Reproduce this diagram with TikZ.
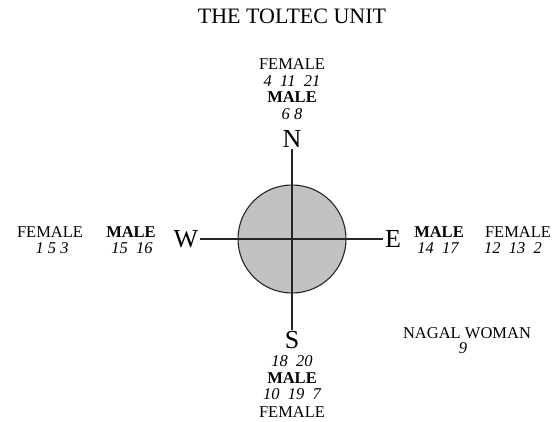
\documentclass[tikz,border=0pt]{standalone}
\usepackage{fontspec}
\setmainfont{Liberation Serif}
\begin{document}
\begin{tikzpicture}[x=1pt,y=-1pt,
  lbl/.style={font=\fontsize{16.5}{18}\selectfont, inner sep=0pt, align=center},
  bl/.style={font=\fontsize{16.5}{18}\selectfont\bfseries, inner sep=0pt},
  num/.style={font=\fontsize{16.5}{18}\selectfont\itshape, inner sep=0pt},
  dirl/.style={font=\fontsize{26}{28}\selectfont, inner sep=1.5pt},
  ln/.style={line width=1.1pt, draw=black!85}]
\useasboundingbox (0,0) rectangle (553,422);
\node[font=\fontsize{22}{24}\selectfont, inner sep=0pt] (title) at (292,16) {THE TOLTEC UNIT};
% disc
\node[circle, draw=black!85, line width=1.1pt, fill=black!24, minimum size=108pt, inner sep=0pt] (disc) at (292,239) {};
% directions
\node[dirl] (N) at (292,139) {N};
\node[dirl] (S) at (292,340) {S};
\node[dirl] (W) at (186,239) {W};
\node[dirl] (E) at (393,239) {E};
\draw[ln] (N.south) -- (S.north);
\draw[ln] (W.east) -- (E.west);
% top
\node[lbl] (tf) at (292,64) {FEMALE};
\node[num] (tfn) at (292,81) {4\ \ 11\ \ 21};
\node[bl] (tm) at (292,97) {MALE};
\node[num] (tmn) at (292,114) {6 8};
% left
\node[lbl] (lf) at (50,232) {FEMALE};
\node[num] (lfn) at (52,248) {1\ 5\ 3};
\node[bl] (lm) at (131,232) {MALE};
\node[num] (lmn) at (132,248) {15\ \ 16};
% right
\node[bl] (rm) at (439,232) {MALE};
\node[num] (rmn) at (438,248) {14\ \ 17};
\node[lbl] (rf) at (518,232) {FEMALE};
\node[num] (rfn) at (513,248) {12\ \ 13\ \ 2};
% bottom
\node[num] (bmn) at (292,361) {18\ \ 20};
\node[bl] (bm) at (292,378) {MALE};
\node[num] (bfn) at (292,394) {10\ \ 19\ \ 7};
\node[lbl] (bf) at (292,412) {FEMALE};
% nagal
\node[lbl] (nw) at (467,333) {NAGAL WOMAN};
\node[num] (nwn) at (463,348) {9};
\end{tikzpicture}
\end{document}
